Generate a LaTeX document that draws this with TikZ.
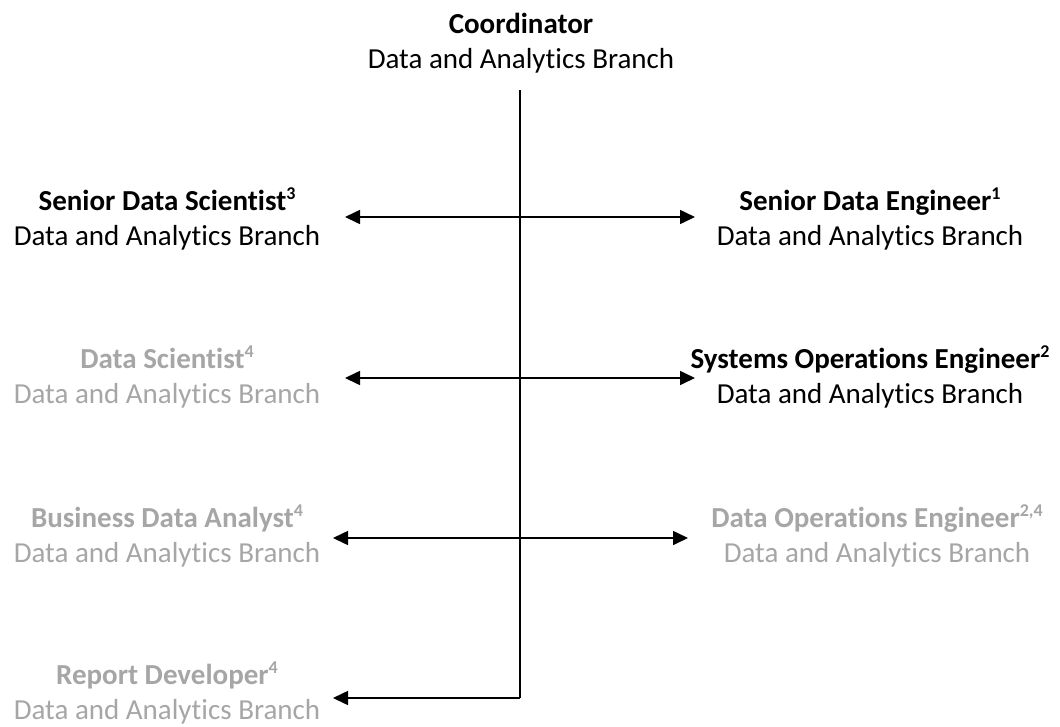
\documentclass[tikz,border=0pt]{standalone}
\usepackage{fontspec}
\setmainfont{Carlito}[Ligatures=NoCommon]
\usetikzlibrary{arrows.meta}
\definecolor{dim}{HTML}{A6A6A6}
\newcommand\sups[1]{\raisebox{0.36em}{\fontsize{18}{18}\selectfont #1}}
\begin{document}
\begin{tikzpicture}[x=1pt,y=-1pt,
  role/.style={align=center,font=\fontsize{29}{35}\selectfont,inner sep=0pt,anchor=base},
  faded/.style={role,text=dim},
  link/.style={line width=1.6pt,-{Triangle[length=15pt,width=14pt]}},
  both/.style={line width=1.6pt,{Triangle[length=15pt,width=14pt]}-{Triangle[length=15pt,width=14pt]}},
  spine/.style={line width=1.8pt}]
\useasboundingbox (0,0) rectangle (1060,726);

% roles (anchored at the baseline of their last line)
\node[role]  (coord) at (521,68)  {\textbf{Coordinator}\\Data and Analytics Branch};
\node[role]  (sds)   at (167,245) {\textbf{Senior Data Scientist\sups{3}}\\Data and Analytics Branch};
\node[role]  (sde)   at (870,245) {\textbf{Senior Data Engineer\sups{1}}\\Data and Analytics Branch};
\node[faded] (ds)    at (167,403) {\textbf{Data Scientist\sups{4}}\\Data and Analytics Branch};
\node[role]  (soe)   at (870,403) {\textbf{Systems Operations Engineer\sups{2}}\\Data and Analytics Branch};
\node[faded] (bda)   at (167,562) {\textbf{Business Data Analyst\sups{4}}\\Data and Analytics Branch};
\node[faded] (doe)   at (877,562) {\textbf{Data Operations Engineer\sups{2,4}}\\Data and Analytics Branch};
\node[faded] (rd)    at (167,719) {\textbf{Report Developer\sups{4}}\\Data and Analytics Branch};

% arrow ends and spine points
\coordinate (top) at (520,90);
\coordinate (L1) at (345,217); \coordinate (R1) at (695,217);
\coordinate (L2) at (345,378); \coordinate (R2) at (695,378);
\coordinate (L3) at (333,538); \coordinate (R3) at (688,538);
\coordinate (L4) at (333,698); \coordinate (bot) at (520,698);

\draw[spine] (top) -- (bot);
\draw[both] (L1) -- (R1);
\draw[both] (L2) -- (R2);
\draw[both] (L3) -- (R3);
\draw[link] (bot) -- (L4);
\end{tikzpicture}
\end{document}
